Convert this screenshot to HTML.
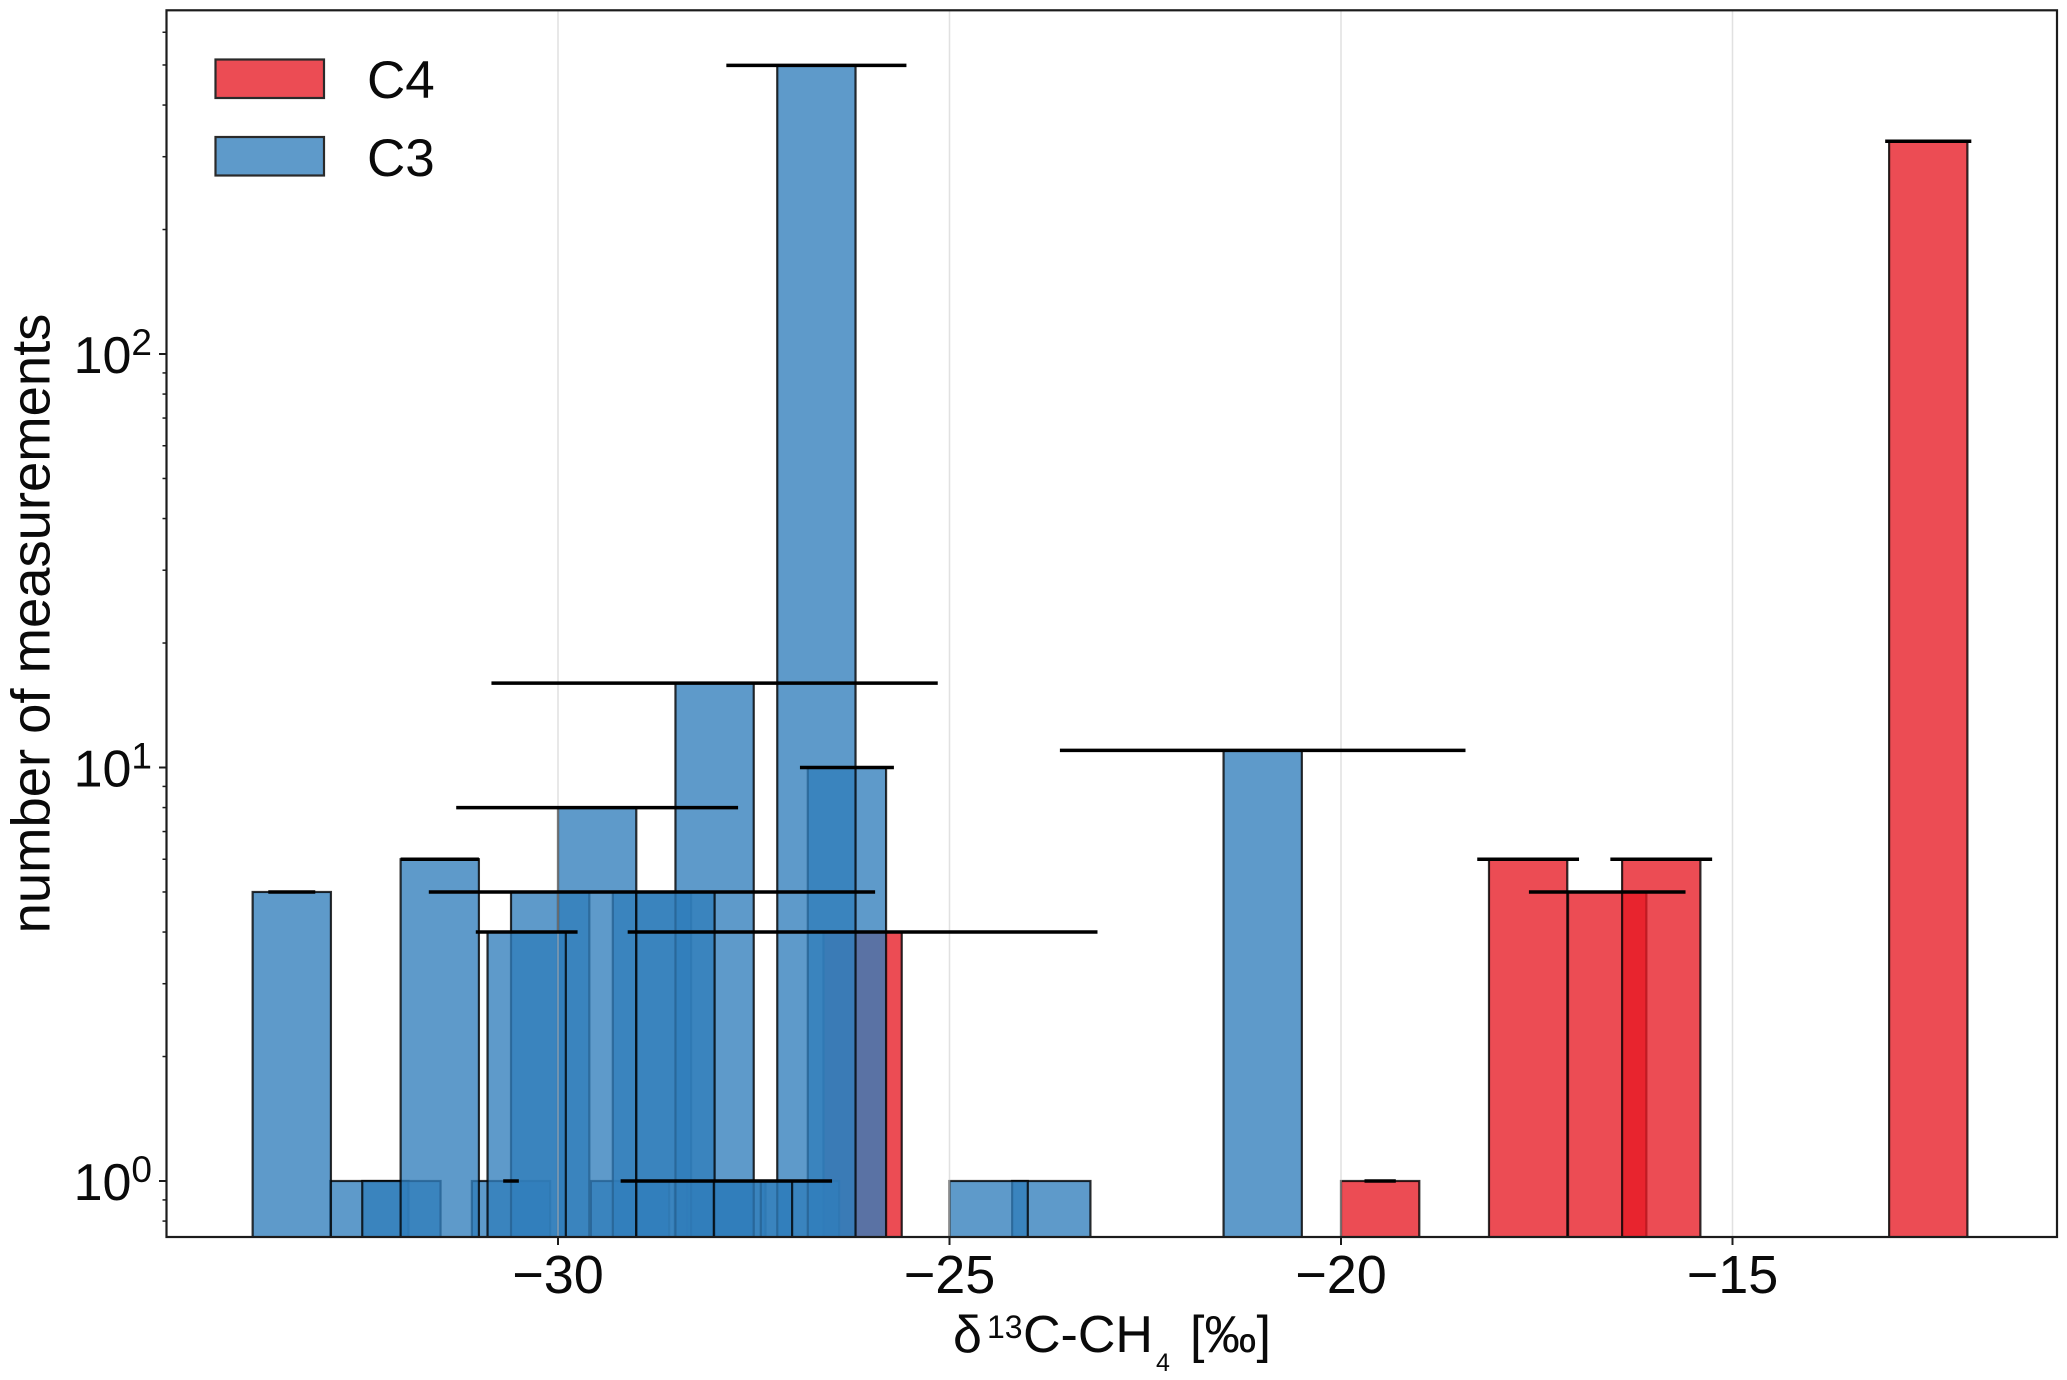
<!DOCTYPE html>
<html lang="en">
<head>
<meta charset="utf-8">
<title>Histogram of δ13C-CH4 measurements</title>
<style>
  html, body { margin: 0; padding: 0; background: #fff; }
  svg { display: block; }
  text { font-family: "Liberation Sans", Arial, sans-serif; fill: #0a0a0a; }
</style>
</head>
<body>
<svg id="chart" xmlns="http://www.w3.org/2000/svg" width="2067" height="1380" viewBox="0 0 2067 1380">
  <defs>
    <clipPath id="plot-clip"><rect x="167" y="10" width="1890" height="1227"></rect></clipPath>
  </defs>
  <rect x="0" y="0" width="2067" height="1380" fill="#ffffff"></rect>
  <g id="c4-bars" clip-path="url(#plot-clip)"></g>
  <g id="c3-bars" clip-path="url(#plot-clip)"></g>
  <g id="grid"></g>
  <g id="errors" clip-path="url(#plot-clip)"></g>
  <rect x="166.5" y="10.3" width="1890.5" height="1226.7" fill="none" stroke="#1c1c1c" stroke-width="2.2"></rect>
  <g id="x-axis"></g>
  <g id="y-axis"></g>

  <text x="49.5" y="623.5" font-size="54.4" text-anchor="middle" transform="rotate(-90 49.5 623.5)">number of measurements</text>

  <text y="1352" font-size="52"><tspan x="953">δ</tspan><tspan x="987" y="1338" font-size="32">13</tspan><tspan x="1023" y="1352">C-CH</tspan><tspan x="1156" y="1371" font-size="25">4</tspan><tspan x="1190" y="1352">[‰]</tspan></text>

  <g>
    <g>
      <rect x="215.5" y="59.5" width="108.5" height="38.5" fill="#ec4c54" stroke="#2a2a2a" stroke-width="2.2"></rect>
      <text x="367" y="98" font-size="53">C4</text>
    </g>
    <g>
      <rect x="215.5" y="137" width="108.5" height="38.5" fill="#5e9aca" stroke="#2a2a2a" stroke-width="2.2"></rect>
      <text x="367" y="176" font-size="53">C3</text>
    </g>
  </g>
</svg>
<script>
// Chart data, listed in drawing order (bottom to top).
const c4Centers = [-26.11, -19.50, -17.61, -16.60, -15.91, -12.50];
const c4Counts  = [4, 1, 6, 5, 6, 327];
const c4XErrors = [3.00, 0.20, 0.65, 1.00, 0.65, 0.55];

const c3Centers = [-30.60, -32.41, -32.00, -29.08, -28.01, -27.85, -26.91, -23.70, -24.50, -21.00, -33.40, -31.51, -30.10, -28.80, -26.31, -28.00, -29.50, -30.40, -28.50, -26.70, -27.51];
const c3Counts  = [1, 1, 1, 1, 1, 1, 1, 1, 1, 11, 5, 6, 5, 5, 10, 16, 8, 4, 5, 499, 1];
const c3XErrors = [0.10, 0, 0, 0, 0, 1.35, 0, 0, 0, 2.59, 0.30, 0.50, 0, 2.85, 0.60, 2.85, 1.80, 0.65, 0, 1.15, 0];

const binWidth = 1;
const xTickValues = [-30, -25, -20, -15];
const xTickLabels = ['\u221230', '\u221225', '\u221220', '\u221215'];
const yTickExponents = [0, 1, 2];
const yMinorDecades = [-1, 0, 1, 2];
const yMinorMultiples = [2, 3, 4, 5, 6, 7, 8, 9];

const SVG_NS = 'http://www.w3.org/2000/svg';
const plotTop = 10.3;
const plotBottom = 1237;

function xScale(v) { return 558 + (v + 30) * 78.3; }
function yScale(v) { return 1181 - Math.log10(v) * 413.5; }

function make(tag, attrs) {
  const el = document.createElementNS(SVG_NS, tag);
  for (const k in attrs) el.setAttribute(k, attrs[k]);
  return el;
}

function drawBars(parentId, centers, counts, fill, label) {
  const parent = document.getElementById(parentId);
  centers.forEach(function (c, i) {
    const top = yScale(counts[i]);
    const r = make('rect', {
      x: xScale(c - binWidth / 2),
      y: top,
      width: xScale(c + binWidth / 2) - xScale(c - binWidth / 2),
      height: plotBottom + 6 - top,
      fill: fill,
      stroke: 'rgba(0,0,0,0.8)',
      'stroke-width': 2.2
    });
    
    
    parent.appendChild(r);
  });
}

function drawErrors(centers, counts, errs, label) {
  const parent = document.getElementById('errors');
  centers.forEach(function (c, i) {
    if (!errs[i]) return;
    const y = yScale(counts[i]);
    const l = make('line', {
      x1: xScale(c - errs[i]),
      x2: xScale(c + errs[i]),
      y1: y,
      y2: y,
      stroke: '#000000',
      'stroke-width': 3.5
    });
    
    
    parent.appendChild(l);
  });
}

drawBars('c4-bars', c4Centers, c4Counts, 'rgba(231,26,36,0.78)', 'c4');
drawBars('c3-bars', c3Centers, c3Counts, 'rgba(49,126,187,0.78)', 'c3');
drawErrors(c4Centers, c4Counts, c4XErrors, 'c4');
drawErrors(c3Centers, c3Counts, c3XErrors, 'c3');

const gridGroup = document.getElementById('grid');
const xAxisGroup = document.getElementById('x-axis');
xTickValues.forEach(function (v, i) {
  const x = xScale(v);
  const g = make('line', { x1: x, x2: x, y1: plotTop, y2: plotBottom, stroke: 'rgba(205,205,205,0.6)', 'stroke-width': 1.5 });
  
  
  gridGroup.appendChild(g);

  const t = make('line', { x1: x, x2: x, y1: plotBottom, y2: plotBottom + 8, stroke: '#1c1c1c', 'stroke-width': 2 });
  
  
  xAxisGroup.appendChild(t);

  const txt = make('text', { x: x, y: 1293, 'font-size': 54, 'text-anchor': 'middle' });
  txt.textContent = xTickLabels[i];
  
  
  xAxisGroup.appendChild(txt);
});

const yAxisGroup = document.getElementById('y-axis');
yTickExponents.forEach(function (e) {
  const y = yScale(Math.pow(10, e));
  const t = make('line', { x1: 159, x2: 166.5, y1: y, y2: y, stroke: '#1c1c1c', 'stroke-width': 2 });
  
  
  yAxisGroup.appendChild(t);

  const txt = make('text', { x: 152, y: y + 19, 'font-size': 52, 'text-anchor': 'end' });
  const sup = make('tspan', { dy: -18, 'font-size': 37 });
  sup.textContent = String(e);
  txt.appendChild(document.createTextNode('10'));
  txt.appendChild(sup);
  
  
  yAxisGroup.appendChild(txt);
});

yMinorDecades.forEach(function (d) {
  yMinorMultiples.forEach(function (m) {
    const y = yScale(m * Math.pow(10, d));
    if (y < plotTop || y > plotBottom) return;
    const t = make('line', { x1: 162.5, x2: 166.5, y1: y, y2: y, stroke: '#1c1c1c', 'stroke-width': 1.5 });
    
    
    yAxisGroup.appendChild(t);
  });
});
</script>
</body>
</html>
